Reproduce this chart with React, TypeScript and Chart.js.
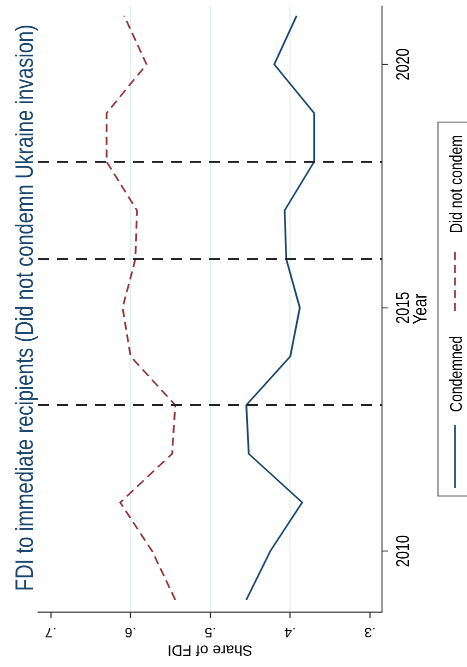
import { useEffect, useRef } from 'react';
import { Chart, registerables } from 'chart.js';

Chart.register(...registerables);

// ---------------- data ----------------
const YEARS = [2009, 2010, 2011, 2012, 2013, 2014, 2015, 2016, 2017, 2018, 2019, 2020, 2021];
const CONDEMNED = [0.455, 0.425, 0.385, 0.452, 0.455, 0.4, 0.388, 0.405, 0.407, 0.37, 0.37, 0.42, 0.392];
const NOT_CONDEMNED = [0.544, 0.573, 0.613, 0.548, 0.544, 0.6, 0.61, 0.594, 0.592, 0.63, 0.63, 0.58, 0.608];
const SERIES_LABELS = ['Condemned', 'Did not condem'];
const YEAR_TICKS = [2010, 2015, 2020];
const SHARE_TICKS = [0.3, 0.4, 0.5, 0.6, 0.7];
const SHARE_TICK_LABELS = ['.3', '.4', '.5', '.6', '.7'];
const GRID_SHARES = [0.4, 0.5, 0.6];
const EVENT_YEARS = [2013, 2016, 2018];
const TITLE = 'FDI to immediate recipients (Did not condemn Ukraine invasion)';
const X_TITLE = 'Year';
const Y_TITLE = 'Share of FDI';

// ---------------- style ----------------
const FONT = '"Liberation Sans", Arial, Helvetica, sans-serif';
const NAVY = '#1a476f';
const MAROON = '#90353b';
const GRID = '#e1ebee';
const AXIS = '#333333';
const W0 = 834; // unscaled (original) width
const H0 = 467;
const S = 667 / W0; // horizontal squash of the original graph

const eventLines = {
  id: 'eventLines',
  afterDatasetsDraw(chart: any) {
    const { ctx, chartArea, scales } = chart;
    ctx.save();
    ctx.strokeStyle = '#222222';
    ctx.lineWidth = 2.4;
    ctx.setLineDash([11, 8]);
    EVENT_YEARS.forEach((yr) => {
      const x = scales.x.getPixelForValue(yr);
      ctx.beginPath();
      ctx.moveTo(x, chartArea.top);
      ctx.lineTo(x, chartArea.bottom);
      ctx.stroke();
    });
    ctx.restore();
  },
};

// vertical (rotated) texts of the y axis, drawn un-squashed
const yAxisText = {
  id: 'yAxisText',
  afterDraw(chart: any) {
    const { ctx, scales, chartArea } = chart;
    const ys = scales.y;
    ctx.save();
    ctx.fillStyle = '#000000';
    ctx.textAlign = 'center';
    ctx.textBaseline = 'alphabetic';
    ctx.font = `14px ${FONT}`;
    SHARE_TICKS.forEach((v, i) => {
      const py = ys.getPixelForValue(v);
      ctx.save();
      ctx.translate(42.5, py);
      ctx.rotate(-Math.PI / 2);
      ctx.scale(1, 1 / S);
      ctx.fillText(SHARE_TICK_LABELS[i], 0, 5);
      ctx.restore();
    });
    ctx.font = `15px ${FONT}`;
    ctx.save();
    ctx.translate(20, (chartArea.top + chartArea.bottom) / 2);
    ctx.rotate(-Math.PI / 2);
    ctx.scale(1, 1 / S);
    ctx.fillText(Y_TITLE, 0, 5.4);
    ctx.restore();
    ctx.restore();
  },
};

const titlePlugin = {
  id: 'bigTitle',
  afterDraw(chart: any) {
    const { ctx, chartArea } = chart;
    ctx.save();
    ctx.font = `25px ${FONT}`;
    ctx.fillStyle = NAVY;
    ctx.textAlign = 'center';
    ctx.textBaseline = 'alphabetic';
    ctx.fillText(TITLE, (chartArea.left + chartArea.right) / 2 + 1.5, 33);
    ctx.restore();
  },
};

const legendPlugin = {
  id: 'stataLegend',
  afterDraw(chart: any) {
    const { ctx } = chart;
    ctx.save();
    ctx.fillStyle = '#ffffff';
    ctx.fillRect(213.8, 438, 681.3 - 213.8, 80);
    ctx.strokeStyle = '#666666';
    ctx.lineWidth = 1.2;
    ctx.strokeRect(213.8, 438, 681.3 - 213.8, 80);
    ctx.lineWidth = 1.8;
    ctx.strokeStyle = NAVY;
    ctx.beginPath();
    ctx.moveTo(223.8, 455);
    ctx.lineTo(302.5, 455);
    ctx.stroke();
    ctx.strokeStyle = MAROON;
    ctx.setLineDash([10, 6]);
    ctx.beginPath();
    ctx.moveTo(445, 455);
    ctx.lineTo(523.8, 455);
    ctx.stroke();
    ctx.setLineDash([]);
    ctx.fillStyle = '#000000';
    ctx.font = `17.5px ${FONT}`;
    ctx.textAlign = 'left';
    ctx.textBaseline = 'alphabetic';
    ctx.fillText(SERIES_LABELS[0], 318.8, 462);
    ctx.fillText(SERIES_LABELS[1], 542.5, 462);
    ctx.restore();
  },
};

export default function App() {
  const ref = useRef<HTMLCanvasElement>(null);

  useEffect(() => {
    const canvas = ref.current;
    if (!canvas) return;
    const chart = new Chart(canvas, {
      type: 'line',
      data: {
        datasets: [
          {
            label: SERIES_LABELS[0],
            data: YEARS.map((yr, i) => ({ x: yr, y: CONDEMNED[i] })),
            borderColor: NAVY,
            borderWidth: 1.8,
            pointRadius: 0,
            tension: 0,
            fill: false,
          },
          {
            label: SERIES_LABELS[1],
            data: YEARS.map((yr, i) => ({ x: yr, y: NOT_CONDEMNED[i] })),
            borderColor: MAROON,
            borderWidth: 1.8,
            borderDash: [10, 6],
            pointRadius: 0,
            tension: 0,
            fill: false,
          },
        ],
      },
      options: {
        animation: false,
        responsive: false,
        devicePixelRatio: 2,
        layout: { padding: { top: 38, right: 7.5, left: 0, bottom: 0 } },
        plugins: {
          legend: { display: false },
          title: { display: false },
          tooltip: { enabled: false },
        },
        scales: {
          x: {
            type: 'linear',
            position: 'bottom',
            min: 2008.75,
            max: 2021.2,
            afterBuildTicks: (s: any) => {
              s.ticks = YEAR_TICKS.map((v) => ({ value: v }));
            },
            afterFit: (s: any) => {
              s.height = 85;
            },
            ticks: {
              autoSkip: false,
              maxRotation: 0,
              padding: 5,
              color: '#000000',
              font: { family: FONT, size: 18 },
              callback: (v: any) => String(v),
            },
            grid: {
              drawOnChartArea: false,
              drawTicks: true,
              tickLength: 6,
              tickColor: AXIS,
              tickWidth: 1.25,
            },
            border: { display: true, color: AXIS, width: 1 },
            title: {
              display: true,
              text: X_TITLE,
              color: '#000000',
              font: { family: FONT, size: 19 },
              padding: { top: 0, bottom: 34.5 },
            },
          },
          y: {
            type: 'linear',
            position: 'left',
            min: 0.285,
            max: 0.716,
            afterBuildTicks: (s: any) => {
              s.ticks = SHARE_TICKS.map((v) => ({ value: v }));
            },
            afterFit: (s: any) => {
              s.width = 68.8;
            },
            ticks: { display: false },
            grid: {
              drawTicks: true,
              tickLength: 7.5,
              tickColor: AXIS,
              tickWidth: 1.25,
              lineWidth: 1,
              color: (c: any) =>
                c.tick && GRID_SHARES.some((g) => Math.abs(g - c.tick.value) < 1e-6) ? GRID : 'rgba(0,0,0,0)',
            },
            border: { display: true, color: AXIS, width: 1.25 },
            title: { display: false },
          },
        },
      } as any,
      plugins: [eventLines, yAxisText, titlePlugin, legendPlugin],
    });
    return () => chart.destroy();
  }, []);

  return (
    <div
      style={{
        position: 'absolute',
        left: 0,
        top: 0,
        width: 467,
        height: 667,
        overflow: 'hidden',
        background: '#ffffff',
      }}
    >
      <div
        style={{
          position: 'absolute',
          left: 0,
          top: 0,
          width: W0,
          height: H0,
          transformOrigin: '0 0',
          transform: `translate(0px, 667px) rotate(-90deg) scale(${S}, 1)`,
        }}
      >
        <canvas ref={ref} width={W0} height={H0} style={{ display: 'block' }} />
      </div>
    </div>
  );
}
